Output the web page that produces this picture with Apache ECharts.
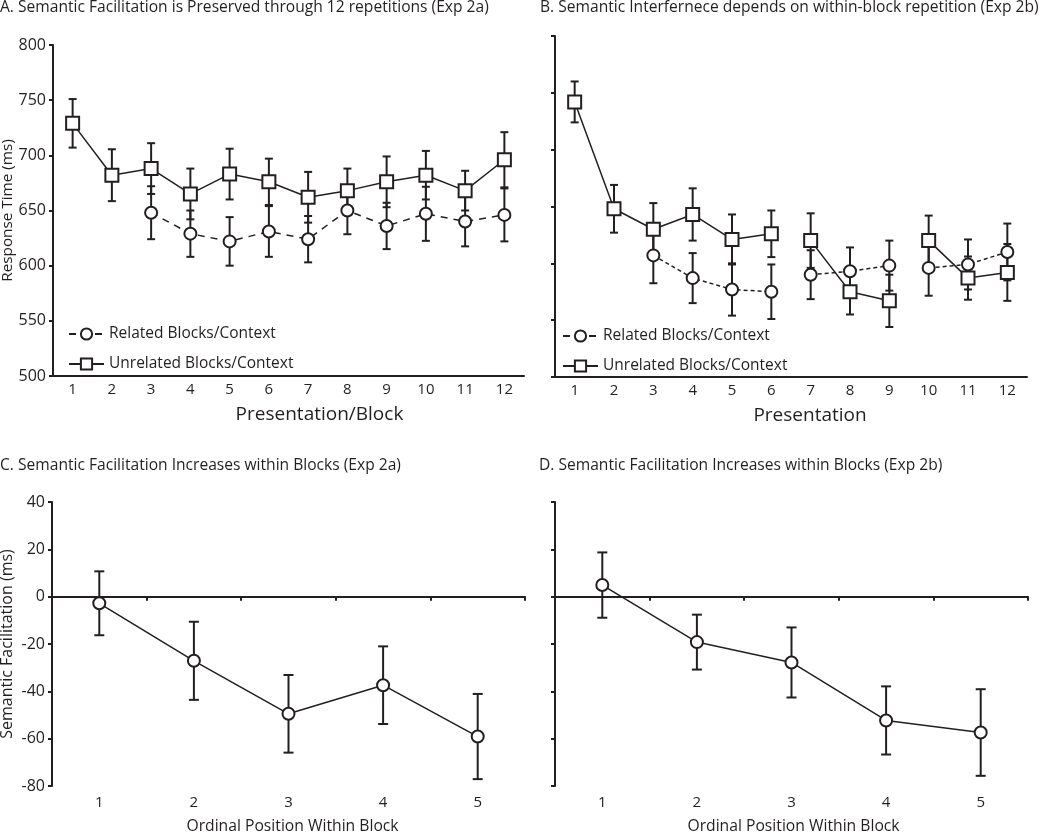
<!DOCTYPE html>
<html>
<head>
<meta charset="utf-8">
<script src="https://cdn.jsdelivr.net/npm/echarts@6/dist/echarts.min.js"></script>
<style>html,body{margin:0;padding:0;background:#fff}#c{width:1050px;height:834px}</style>
</head>
<body>
<div id="c"></div>
<script>
// ---------- DATA ----------
const presCats = ['1','2','3','4','5','6','7','8','9','10','11','12'];
const ordCats = ['1','2','3','4','5'];

// Panel A (Exp 2a)
const aUnrel    = [729, 682, 688, 665, 683, 676, 662, 668, 676, 682, 668, 696];
const aUnrelErr = [22, 23.5, 23, 23, 23, 21, 23, 20, 23, 22, 18, 25];
const aRel      = [null, null, 648, 629, 622, 631, 624, 650, 636, 647, 640, 646];
const aRelErr   = [null, null, 24, 21, 22, 23, 21, 21.5, 21, 24.5, 22.5, 24];

// Panel B (Exp 2b)
const bUnrel    = [742, 648, 630, 643, 621, 626, 620, 575, 567, 620, 587, 592];
const bUnrelErr = [18, 21, 23, 23, 22, 20.5, 24, 20, 23, 22, 19, 25];
const bRel      = [null, null, 607, 587, 577, 575, 590, 593, 598, 596, 599, 610];
const bRelErr   = [null, null, 24.5, 22, 23, 24, 21.5, 21, 22, 24.5, 22, 25];
const bBlocks   = [[1, 6], [7, 9], [10, 12]];   // presentations joined by lines

// Panel C (Exp 2a) and D (Exp 2b): semantic facilitation
const cMean = [-2.8, -27.1, -49.5, -37.4, -59.1];
const cErr  = [13.5, 16.5, 16.4, 16.4, 18];
const dMean = [4.9, -19.2, -27.8, -52.3, -57.4];
const dErr  = [13.8, 11.6, 14.8, 14.4, 18.3];

const titles = [
  'A. Semantic Facilitation is Preserved through 12 repetitions (Exp 2a)',
  'B. Semantic Interfernece depends on within-block repetition (Exp 2b)',
  'C. Semantic Facilitation Increases within Blocks (Exp 2a)',
  'D. Semantic Facilitation Increases within Blocks (Exp 2b)'
];
const REL = 'Related Blocks/Context';
const UNREL = 'Unrelated Blocks/Context';

// ---------- STYLE ----------
const INK = '#231f20';
const FONT = 'Open Sans';

function errData(mean, err) {
  const out = [];
  mean.forEach((m, i) => { if (m != null && err[i] != null) out.push([i, m - err[i], m + err[i]]); });
  return out;
}
function errSeries(mean, err, xi, yi, cap) {
  return {
    type: 'custom', xAxisIndex: xi, yAxisIndex: yi, z: 1, silent: true,
    data: errData(mean, err),
    encode: { x: 0, y: [1, 2] },
    renderItem: function (params, api) {
      const x = api.value(0);
      const lo = api.coord([x, api.value(1)]);
      const hi = api.coord([x, api.value(2)]);
      const st = { stroke: INK, lineWidth: 2 };
      return { type: 'group', children: [
        { type: 'line', shape: { x1: hi[0], y1: hi[1], x2: lo[0], y2: lo[1] }, style: st },
        { type: 'line', shape: { x1: hi[0] - cap, y1: hi[1], x2: hi[0] + cap, y2: hi[1] }, style: st },
        { type: 'line', shape: { x1: lo[0] - cap, y1: lo[1], x2: lo[0] + cap, y2: lo[1] }, style: st }
      ]};
    }
  };
}
function lineSeries(name, data, xi, yi, symbol, size, dash) {
  return {
    type: 'line', name: name, xAxisIndex: xi, yAxisIndex: yi, z: 3,
    data: data, connectNulls: false, symbol: symbol, symbolSize: size,
    showAllSymbol: true, animation: false,
    lineStyle: { color: INK, width: 1.5, type: dash || 'solid' },
    itemStyle: { color: '#ffffff', borderColor: INK, borderWidth: 2 }
  };
}
function segment(arr, from, to) {
  return arr.map((v, i) => (i + 1 >= from && i + 1 <= to) ? v : null);
}

const axisLineStyle = { color: INK, width: 2 };
const labelStyle = { color: INK, fontFamily: FONT, fontSize: 15 };
const yLabelStyle = { color: INK, fontFamily: FONT, fontSize: 16 };
const titleStyle = { fontFamily: FONT, fontSize: 15.6, fontWeight: 'normal', color: INK };

const option = {
  backgroundColor: '#ffffff',
  animation: false,
  textStyle: { fontFamily: FONT, color: INK },
  title: [
    { text: titles[0], left: 0, top: 0, padding: 0, textStyle: titleStyle },
    { text: titles[1], left: 540, top: 0, padding: 0, textStyle: titleStyle },
    { text: titles[2], left: 0, top: 458, padding: 0, textStyle: titleStyle },
    { text: titles[3], left: 539, top: 458, padding: 0, textStyle: titleStyle }
  ],
  legend: [
    { orient: 'vertical', left: 68, top: 326, itemWidth: 35, itemHeight: 14, itemGap: 14, padding: 0,
      data: [REL, UNREL], selectedMode: false,
      textStyle: { fontFamily: FONT, fontSize: 15.5, color: INK } },
    { orient: 'vertical', left: 562, top: 328, itemWidth: 35, itemHeight: 14, itemGap: 14, padding: 0,
      data: [REL, UNREL], selectedMode: false,
      textStyle: { fontFamily: FONT, fontSize: 15.5, color: INK } }
  ],
  grid: [
    { left: 53, top: 45, width: 471, height: 331, outerBoundsMode: 'none' },
    { left: 555, top: 36, width: 472, height: 341, outerBoundsMode: 'none' },
    { left: 52, top: 502, width: 473, height: 284, outerBoundsMode: 'none' },
    { left: 555, top: 502, width: 473, height: 284, outerBoundsMode: 'none' }
  ],
  xAxis: [
    { gridIndex: 0, type: 'category', data: presCats, boundaryGap: true,
      axisLine: { lineStyle: axisLineStyle }, axisTick: { length: 4, lineStyle: axisLineStyle },
      axisLabel: Object.assign({ margin: 6 }, labelStyle),
      name: 'Presentation/Block', nameLocation: 'middle', nameGap: 29,
      nameTextStyle: { fontFamily: FONT, fontSize: 19, color: INK, padding: [0, 0, 0, 62] } },
    { gridIndex: 1, type: 'category', data: presCats, boundaryGap: true,
      axisLine: { lineStyle: axisLineStyle }, axisTick: { length: 4, lineStyle: axisLineStyle },
      axisLabel: Object.assign({ margin: 6 }, labelStyle),
      name: 'Presentation', nameLocation: 'middle', nameGap: 29,
      nameTextStyle: { fontFamily: FONT, fontSize: 19, color: INK, padding: [0, 0, 0, 38] } },
    // C: labels at bottom
    { gridIndex: 2, type: 'category', data: ordCats, position: 'bottom', boundaryGap: true,
      axisLine: { show: false, onZero: false }, axisTick: { show: false },
      axisLabel: Object.assign({ margin: 9 }, labelStyle),
      name: 'Ordinal Position Within Block', nameLocation: 'middle', nameGap: 33,
      nameTextStyle: { fontFamily: FONT, fontSize: 15.7, color: INK, padding: [0, 0, 0, 8] } },
    // C: zero line with ticks
    { gridIndex: 2, type: 'category', data: ordCats, position: 'top', boundaryGap: true,
      axisLine: { show: true, onZero: true, lineStyle: axisLineStyle },
      axisTick: { show: true, inside: true, length: 4, lineStyle: axisLineStyle },
      axisLabel: { show: false } },
    // D: labels at bottom
    { gridIndex: 3, type: 'category', data: ordCats, position: 'bottom', boundaryGap: true,
      axisLine: { show: false, onZero: false }, axisTick: { show: false },
      axisLabel: Object.assign({ margin: 9 }, labelStyle),
      name: 'Ordinal Position Within Block', nameLocation: 'middle', nameGap: 33,
      nameTextStyle: { fontFamily: FONT, fontSize: 15.7, color: INK, padding: [0, 0, 0, 4] } },
    // D: zero line with ticks
    { gridIndex: 3, type: 'category', data: ordCats, position: 'top', boundaryGap: true,
      axisLine: { show: true, onZero: true, lineStyle: axisLineStyle },
      axisTick: { show: true, inside: true, length: 4, lineStyle: axisLineStyle },
      axisLabel: { show: false } }
  ],
  yAxis: [
    { gridIndex: 0, type: 'value', min: 500, max: 800, interval: 50,
      axisLine: { show: true, lineStyle: axisLineStyle }, axisTick: { show: true, length: 4, lineStyle: axisLineStyle },
      splitLine: { show: false }, axisLabel: Object.assign({ margin: 7 }, yLabelStyle),
      name: 'Response Time (ms)', nameLocation: 'middle', nameGap: 38,
      nameTextStyle: { fontFamily: FONT, fontSize: 15.3, color: INK } },
    { gridIndex: 1, type: 'value', min: 500, max: 800, interval: 50,
      axisLine: { show: true, lineStyle: axisLineStyle }, axisTick: { show: true, length: 4, lineStyle: axisLineStyle },
      splitLine: { show: false }, axisLabel: { show: false } },
    { gridIndex: 2, type: 'value', min: -80, max: 40, interval: 20,
      axisLine: { show: true, onZero: false, lineStyle: axisLineStyle }, axisTick: { show: true, length: 4, lineStyle: axisLineStyle },
      splitLine: { show: false }, axisLabel: Object.assign({ margin: 7 }, yLabelStyle),
      name: 'Semantic Facilitation (ms)', nameLocation: 'middle', nameGap: 37,
      nameTextStyle: { fontFamily: FONT, fontSize: 16, color: INK } },
    { gridIndex: 3, type: 'value', min: -80, max: 40, interval: 20,
      axisLine: { show: true, onZero: false, lineStyle: axisLineStyle }, axisTick: { show: true, length: 4, lineStyle: axisLineStyle },
      splitLine: { show: false }, axisLabel: { show: false } }
  ],
  series: []
};

// Panel A
option.series.push(errSeries(aUnrel, aUnrelErr, 0, 0, 4));
option.series.push(errSeries(aRel, aRelErr, 0, 0, 4));
option.series.push(lineSeries(REL, aRel, 0, 0, 'circle', 12, [7, 6]));
option.series.push(lineSeries(UNREL, aUnrel, 0, 0, 'rect', 13));

// Panel B
option.series.push(errSeries(bUnrel, bUnrelErr, 1, 1, 4));
option.series.push(errSeries(bRel, bRelErr, 1, 1, 4));
bBlocks.forEach(b => {
  option.series.push(lineSeries(REL, segment(bRel, b[0], b[1]), 1, 1, 'circle', 12, [4, 3]));
  option.series.push(lineSeries(UNREL, segment(bUnrel, b[0], b[1]), 1, 1, 'rect', 13));
});

// Panel C and D
option.series.push(errSeries(cMean, cErr, 2, 2, 5));
option.series.push(lineSeries('C', cMean, 2, 2, 'circle', 12));
option.series.push(errSeries(dMean, dErr, 4, 3, 5));
option.series.push(lineSeries('D', dMean, 4, 3, 'circle', 12));

const chart = echarts.init(document.getElementById('c'), null, { renderer: 'canvas' });
chart.setOption(option);
</script>
</body>
</html>
